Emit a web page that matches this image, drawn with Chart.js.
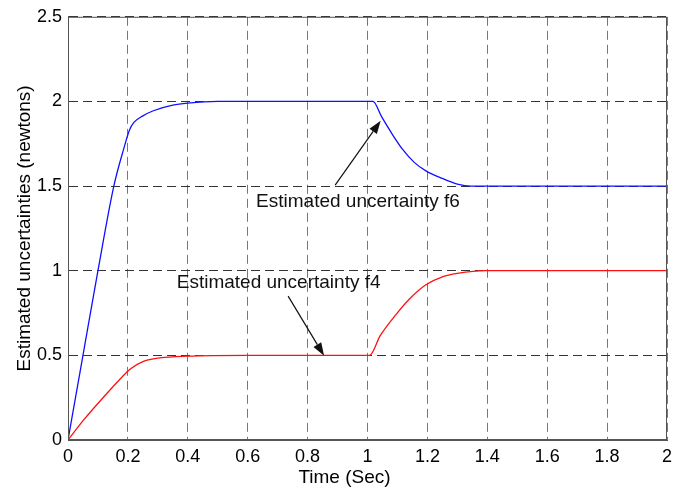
<!DOCTYPE html>
<html>
<head>
<meta charset="utf-8">
<script src="https://cdn.jsdelivr.net/npm/chart.js@4"></script>
<style>
  html, body { margin: 0; padding: 0; background: #fff; }
  #wrap { width: 690px; height: 492px; }
</style>
</head>
<body>
<div id="wrap"><canvas id="myChart" width="690" height="492"></canvas></div>
<script>
// estimated uncertainty f6 (blue)
const f6Time = [0, 0.05, 0.1, 0.153, 0.186, 0.205, 0.22, 0.25, 0.285, 0.35, 0.4, 0.5,
                1.0, 1.018, 1.047, 1.085, 1.118, 1.156, 1.195, 1.25, 1.3, 1.345, 1.5, 2.0];
const f6Values = [0, 0.5, 1.0, 1.5, 1.72, 1.83, 1.876, 1.915, 1.945, 1.978, 1.99, 2.0,
                  2.0, 2.0, 1.91, 1.8, 1.715, 1.64, 1.59, 1.545, 1.512, 1.5, 1.5, 1.5];

// estimated uncertainty f4 (red)
const f4Time = [0, 0.053, 0.119, 0.175, 0.208, 0.252, 0.307, 0.396, 0.6,
                1.0, 1.007, 1.042, 1.097, 1.14, 1.195, 1.25, 1.3, 1.395, 2.0];
const f4Values = [0, 0.12, 0.254, 0.362, 0.42, 0.465, 0.485, 0.495, 0.5,
                  0.5, 0.5, 0.615, 0.745, 0.833, 0.917, 0.964, 0.984, 1.0, 1.0];

const xTickLabels = ['0', '0.2', '0.4', '0.6', '0.8', '1', '1.2', '1.4', '1.6', '1.8', '2'];
const yTickLabels = ['0', '0.5', '1', '1.5', '2', '2.5'];
const xTitle = 'Time (Sec)';
const yTitle = 'Estimated uncertainties (newtons)';

// text + arrow notes, in data units
const notes = [
    { text: 'Estimated uncertainty f6', tx: 0.628, ty: 1.407, from: [0.892, 1.506], to: [1.044, 1.886] },
    { text: 'Estimated uncertainty f4', tx: 0.363, ty: 0.926, from: [0.735, 0.85], to: [0.855, 0.498] },
];

const FONT = "'Liberation Sans', Arial, sans-serif";

const toPoints = (xs, ys) => xs.map((x, i) => ({ x: x, y: ys[i] }));

const frameAndNotes = {
    id: 'frameAndNotes',
    afterDatasetsDraw(chart) {
        const c = chart.ctx;
        const a = chart.chartArea;
        const sx = chart.scales.x, sy = chart.scales.y;
        c.save();
        // box round the plot
        c.strokeStyle = '#555';
        c.lineWidth = 1;
        c.strokeRect(a.left + 0.5, a.top + 0.5, a.right - a.left - 1, a.bottom - a.top - 1);

        // x axis title (sits a bit left of centre, as in the figure)
        c.fillStyle = '#000';
        c.font = '19px ' + FONT;
        c.textAlign = 'center';
        c.textBaseline = 'middle';
        c.fillText(xTitle, (a.left + a.right) / 2 - 23, 478);

        c.fillStyle = '#111';
        c.strokeStyle = '#111';
        c.font = '19px ' + FONT;
        c.textAlign = 'left';
        notes.forEach(n => {
            c.fillText(n.text, sx.getPixelForValue(n.tx), sy.getPixelForValue(n.ty));
            const x0 = sx.getPixelForValue(n.from[0]), y0 = sy.getPixelForValue(n.from[1]);
            const x1 = sx.getPixelForValue(n.to[0]), y1 = sy.getPixelForValue(n.to[1]);
            const ang = Math.atan2(y1 - y0, x1 - x0);
            const len = 13, half = 4.5;
            const bx = x1 - len * Math.cos(ang), by = y1 - len * Math.sin(ang);
            c.lineWidth = 1.2;
            c.beginPath();
            c.moveTo(x0, y0);
            c.lineTo(bx, by);
            c.stroke();
            c.beginPath();
            c.moveTo(x1, y1);
            c.lineTo(bx + half * Math.sin(ang), by - half * Math.cos(ang));
            c.lineTo(bx - half * Math.sin(ang), by + half * Math.cos(ang));
            c.closePath();
            c.fill();
        });
        c.restore();
    }
};

const ctx = document.getElementById('myChart').getContext('2d');
const myChart = new Chart(ctx, {
    type: 'line',
    data: {
        datasets: [
            {
                label: 'f6',
                data: toPoints(f6Time, f6Values),
                borderColor: '#1010ff',
                borderWidth: 1.3,
                pointRadius: 0,
                cubicInterpolationMode: 'monotone',
            },
            {
                label: 'f4',
                data: toPoints(f4Time, f4Values),
                borderColor: '#ff1010',
                borderWidth: 1.3,
                pointRadius: 0,
                cubicInterpolationMode: 'monotone',
            },
        ],
    },
    options: {
        responsive: false,
        animation: false,
        layout: { padding: { top: 14, right: 23, left: 0, bottom: 0 } },
        plugins: {
            legend: { display: false },
            tooltip: { enabled: false },
        },
        scales: {
            x: {
                type: 'linear',
                min: 0,
                max: 2,
                afterFit: s => { s.height = 52; },
                ticks: {
                    stepSize: 0.2,
                    color: '#000',
                    font: { family: FONT, size: 18 },
                    padding: 6,
                    maxRotation: 0,
                    callback: (v, i) => xTickLabels[i],
                },
                grid: { color: '#777', lineWidth: 1, drawTicks: false },
                border: { color: '#555', dash: [9, 5] },
            },
            y: {
                min: 0,
                max: 2.5,
                afterFit: s => { s.width = 68; },
                ticks: {
                    stepSize: 0.5,
                    color: '#000',
                    font: { family: FONT, size: 18 },
                    padding: 6,
                    callback: (v, i) => yTickLabels[i],
                },
                grid: { color: '#333', lineWidth: 1, drawTicks: false },
                border: { color: '#555', dash: [9, 5] },
                title: {
                    display: true,
                    text: yTitle,
                    color: '#000',
                    font: { family: FONT, size: 19 },
                    padding: { top: 13, bottom: 0 },
                },
            },
        },
    },
    plugins: [frameAndNotes],
});
</script>
</body>
</html>
